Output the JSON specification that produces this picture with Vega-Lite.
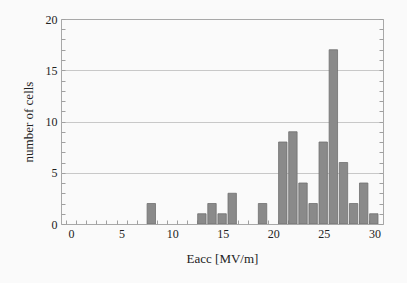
{
  "$schema": "https://vega.github.io/schema/vega-lite/v6.json",
  "autosize": {"type": "none"},
  "padding": {"left": 61, "top": 19, "right": 24, "bottom": 59},
  "width": 322,
  "height": 205,
  "background": "#fafafa",
  "config": {
    "view": {"stroke": "#a8a8a8", "strokeWidth": 1},
    "font": "Liberation Serif"
  },
  "data": {
    "values": [
      {"E": 8, "n": 2}, {"E": 13, "n": 1}, {"E": 14, "n": 2}, {"E": 15, "n": 1},
      {"E": 16, "n": 3}, {"E": 19, "n": 2}, {"E": 21, "n": 8}, {"E": 22, "n": 9},
      {"E": 23, "n": 4}, {"E": 24, "n": 2}, {"E": 25, "n": 8}, {"E": 26, "n": 17},
      {"E": 27, "n": 6}, {"E": 28, "n": 2}, {"E": 29, "n": 4}, {"E": 30, "n": 1}
    ]
  },
  "encoding": {
    "x": {
      "field": "E", "type": "quantitative",
      "scale": {"domain": [0, 30.85], "nice": false, "zero": false},
      "axis": {
        "title": "Eacc [MV/m]",
        "titleFont": "Liberation Serif", "titleFontSize": 13, "titleFontWeight": "normal", "titleColor": "#222",
        "titlePadding": 13,
        "values": [0,1,2,3,4,5,6,7,8,9,10,11,12,13,14,15,16,17,18,19,20,21,22,23,24,25,26,27,28,29,30],
        "labelExpr": "datum.value % 5 === 0 ? datum.label : ''",
        "labelOverlap": false,
        "labelFlush": false,
        "labelOffset": 5,
        "labelFont": "Liberation Serif", "labelFontSize": 12, "labelColor": "#222",
        "labelPadding": 8,
        "tickSize": -4, "tickColor": "#a0a0a0",
        "domain": false, "grid": false
      }
    }
  },
  "layer": [
    {
      "mark": {"type": "bar", "size": 8.4, "xOffset": 4.4, "fill": "#8a8a8a", "stroke": "#707070", "strokeWidth": 0.8, "clip": true},
      "encoding": {
        "y": {
          "field": "n", "type": "quantitative",
          "scale": {"domain": [0, 20], "nice": false},
          "axis": {
            "orient": "left",
            "title": "number of cells",
            "titleFont": "Liberation Serif", "titleFontSize": 13, "titleFontWeight": "normal", "titleColor": "#222",
            "titlePadding": 10,
            "values": [0,1,2,3,4,5,6,7,8,9,10,11,12,13,14,15,16,17,18,19,20],
            "labelExpr": "datum.value % 5 === 0 ? datum.label : ''",
            "labelOverlap": false,
            "labelFont": "Liberation Serif", "labelFontSize": 12, "labelColor": "#222",
            "labelPadding": 8,
            "tickSize": -4, "tickColor": "#a0a0a0",
            "domain": false,
            "grid": true, "gridColor": "#c8c8c8",
            "gridOpacity": {"condition": {"test": "datum.value % 5 === 0 && datum.value > 0 && datum.value < 20", "value": 1}, "value": 0}
          }
        }
      }
    },
    {
      "mark": {"type": "bar", "size": 8, "opacity": 0},
      "encoding": {
        "y": {
          "field": "n", "type": "quantitative",
          "axis": {
            "orient": "right", "title": null, "labels": false, "domain": false, "grid": false,
            "values": [0,1,2,3,4,5,6,7,8,9,10,11,12,13,14,15,16,17,18,19,20],
            "tickSize": -4, "tickColor": "#a0a0a0"
          }
        }
      }
    }
  ],
  "resolve": {"axis": {"y": "independent"}}
}
